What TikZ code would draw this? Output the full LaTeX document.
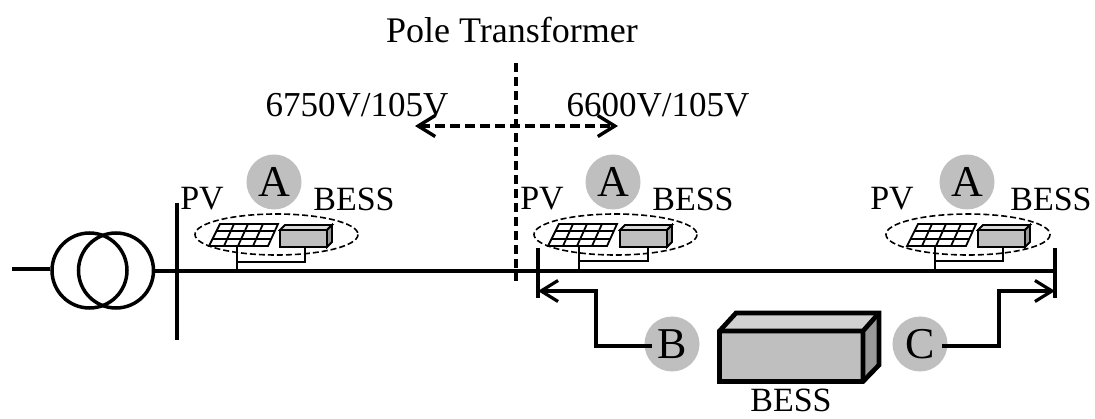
\documentclass[tikz,border=0pt]{standalone}
\usepackage{fontspec}
\setmainfont{Liberation Serif}
\usetikzlibrary{arrows.meta}
\usetikzlibrary{shapes}

\begin{document}
\begin{tikzpicture}[x = 1pt, y = -1pt, font=\fontsize{34}{36}\selectfont]
	\tikzstyle{grayBall}=[shape = circle, minimum size = 55pt, inner sep = 0pt, fill = black!25, font = \fontsize{44}{46}\selectfont]
	\tikzstyle{plainLabel}=[inner sep = 0pt]
	\tikzstyle{bigLabel}=[inner sep = 0pt, font = \fontsize{35}{36}\selectfont]
	\tikzstyle{coilStyle}=[shape = circle, minimum size = 75pt, inner sep = 0pt, draw, line width = 3.5pt]
	\tikzstyle{busLine}=[line width = 3.2pt]
	\tikzstyle{wireLine}=[line width = 1.8pt]
	\tikzstyle{siteRing}=[line width = 1.6pt, dash pattern = on 6pt off 3pt]
	\tikzstyle{tipLine}=[line width = 3.2pt, -{Straight Barb[length = 17pt, width = 21pt]}]
	\useasboundingbox (0, 0) rectangle (1095, 419);
	% labels at the top
	\node[plainLabel, font = \fontsize{36}{36}\selectfont] (poleLabel) at (512, 30) {Pole Transformer};
	\node[bigLabel] (leftVolt) at (357, 105) {6750V/105V};
	\node[bigLabel] (rightVolt) at (658, 105) {6600V/105V};
	\coordinate (poleTop) at (516, 63);
	\coordinate (poleBottom) at (516, 281);
	\coordinate (voltLeft) at (415, 126);
	\coordinate (voltRight) at (618, 126);
	\draw[line width = 3.4pt, dash pattern = on 9pt off 5pt] (poleTop) -- (poleBottom);
	\draw[line width = 3.4pt, dash pattern = on 10pt off 5pt, {Straight Barb[length = 17pt, width = 21pt]}-{Straight Barb[length = 17pt, width = 21pt]}] (voltLeft) -- (voltRight);
	% transformer and main line
	\coordinate (feedIn) at (12, 269);
	\coordinate (lineEnd) at (1056, 271);
	\node[coilStyle] (coilLeft) at (89.5, 270.5) {};
	\node[coilStyle] (coilRight) at (116, 270.5) {};
	\coordinate (busOneTop) at (177, 203);
	\coordinate (busOneBottom) at (177, 340);
	\coordinate (busTwoTop) at (538, 248);
	\coordinate (busTwoBottom) at (538, 298);
	\coordinate (busThreeTop) at (1055, 248);
	\coordinate (busThreeBottom) at (1055, 298);
	\draw[busLine] (feedIn) -- (coilLeft.west |- feedIn);
	\draw[busLine] (coilRight.east |- lineEnd) -- (lineEnd);
	\draw[busLine] (busOneTop) -- (busOneBottom);
	\draw[busLine] (busTwoTop) -- (busTwoBottom);
	\draw[busLine] (busThreeTop) -- (busThreeBottom);
	% site on the first pole
	\begin{scope}[shift = {(0, 0)}]
		\node[grayBall] (ballOne) at (274, 182) {A};
		\node[plainLabel] (pvOne) at (202, 199) {PV};
		\node[plainLabel] (bessOne) at (354, 199) {BESS};
		\draw[siteRing] (276.5, 234.5) ellipse (81.5 and 20.5);
		\draw[wireLine] (209, 246) -- (268, 246) -- (278, 224) -- (220, 224) -- cycle;
		\draw[wireLine] (212, 239) -- (271, 239) (216, 231) -- (275, 231);
		\draw[wireLine] (224, 246) -- (234, 224) (238, 246) -- (248, 224) (253, 246) -- (263, 224);
		\draw[wireLine, fill = black!25] (280, 230) rectangle (327, 247);
		\draw[wireLine, fill = black!15] (280, 230) -- (285, 225) -- (332, 225) -- (327, 230) -- cycle;
		\draw[wireLine, fill = black!40] (327, 230) -- (332, 225) -- (332, 242) -- (327, 247) -- cycle;
		\draw[wireLine] (237, 246) -- (237, 271);
		\draw[wireLine] (237, 262) -- (305, 262) -- (305, 247);
	\end{scope}
	% site on the second pole
	\begin{scope}[shift = {(339, 0)}]
		\node[grayBall] (ballTwo) at (274, 182) {A};
		\node[plainLabel] (pvTwo) at (203, 199) {PV};
		\node[plainLabel] (bessTwo) at (354, 199) {BESS};
		\draw[siteRing] (276.5, 234.5) ellipse (81.5 and 20.5);
		\draw[wireLine] (209, 246) -- (268, 246) -- (278, 224) -- (220, 224) -- cycle;
		\draw[wireLine] (212, 239) -- (271, 239) (216, 231) -- (275, 231);
		\draw[wireLine] (224, 246) -- (234, 224) (238, 246) -- (248, 224) (253, 246) -- (263, 224);
		\draw[wireLine, fill = black!25] (281, 230) rectangle (328, 247);
		\draw[wireLine, fill = black!15] (281, 230) -- (286, 225) -- (333, 225) -- (328, 230) -- cycle;
		\draw[wireLine, fill = black!40] (328, 230) -- (333, 225) -- (333, 242) -- (328, 247) -- cycle;
		\draw[wireLine] (240, 246) -- (240, 271);
		\draw[wireLine] (240, 261) -- (309, 261) -- (309, 247);
	\end{scope}
	% site on the last pole
	\begin{scope}[shift = {(698, 0)}]
		\node[grayBall] (ballThree) at (269, 182) {A};
		\node[plainLabel] (pvThree) at (194, 199) {PV};
		\node[plainLabel] (bessThree) at (353, 199) {BESS};
		\draw[siteRing] (270, 234.5) ellipse (82 and 20.5);
		\draw[wireLine] (209, 246) -- (268, 246) -- (278, 224) -- (220, 224) -- cycle;
		\draw[wireLine] (212, 239) -- (271, 239) (216, 231) -- (275, 231);
		\draw[wireLine] (224, 246) -- (234, 224) (238, 246) -- (248, 224) (253, 246) -- (263, 224);
		\draw[wireLine, fill = black!25] (280, 230) rectangle (327, 247);
		\draw[wireLine, fill = black!15] (280, 230) -- (285, 225) -- (332, 225) -- (327, 230) -- cycle;
		\draw[wireLine, fill = black!40] (327, 230) -- (332, 225) -- (332, 242) -- (327, 247) -- cycle;
		\draw[wireLine] (237, 246) -- (237, 271);
		\draw[wireLine] (237, 261) -- (305, 261) -- (305, 247);
	\end{scope}
	% big battery and its two feeders
	\fill[black!25] (719.5, 331) rectangle (863, 381.5);
	\fill[black!18] (719.5, 331) -- (736, 313) -- (879, 313) -- (863, 331) -- cycle;
	\fill[black!40] (863, 331) -- (879, 313) -- (879, 365) -- (863, 381.5) -- cycle;
	\draw[line width = 4.7pt] (719.5, 331) -- (736, 313) -- (879, 313) -- (879, 365) -- (863, 381.5) -- (719.5, 381.5) -- cycle;
	\draw[line width = 4.7pt] (719.5, 331) -- (863, 331) -- (863, 381.5) (863, 331) -- (879, 313);
	\node[plainLabel, anchor = base] (bessBig) at (791, 411) {BESS};
	\node[grayBall] (ballB) at (672, 344) {B};
	\node[grayBall] (ballC) at (920, 344) {C};
	\coordinate (feedB) at (596, 291);
	\coordinate (feedC) at (999, 291);
	\coordinate (tipB) at (538, 291);
	\coordinate (tipC) at (1055, 291);
	\draw[tipLine] (ballB.center) ++(-20, 2) -| (feedB) -- (tipB);
	\draw[tipLine] (ballC.center) ++(22, 2) -| (feedC) -- (tipC);
\end{tikzpicture}
\end{document}
